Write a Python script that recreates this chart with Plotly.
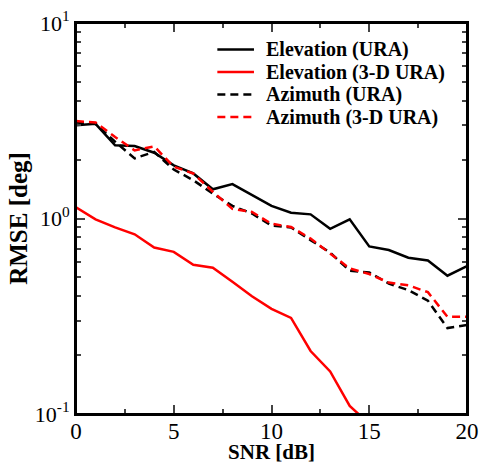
import plotly.graph_objects as go

snr = list(range(21))
elev_ura = [3.0, 3.05, 2.37, 2.35, 2.17, 1.87, 1.70, 1.41, 1.50, 1.32, 1.16,
            1.07, 1.05, 0.885, 0.99, 0.72, 0.69, 0.63, 0.61, 0.51, 0.57]
elev_3d = [1.14, 0.99, 0.90, 0.83, 0.71, 0.675, 0.58, 0.56, 0.475, 0.40, 0.345,
           0.31, 0.21, 0.165, 0.11, 0.089]
az_ura = [3.1, 3.05, 2.47, 2.03, 2.19, 1.78, 1.57, 1.34, 1.16, 1.06, 0.92,
          0.90, 0.775, 0.67, 0.54, 0.53, 0.465, 0.43, 0.38, 0.275, 0.285]
az_3d = [3.15, 3.1, 2.61, 2.23, 2.34, 1.84, 1.70, 1.37, 1.12, 1.08, 0.94,
         0.905, 0.79, 0.66, 0.555, 0.52, 0.47, 0.455, 0.42, 0.314, 0.314]

names = ["Elevation (URA)", "Elevation (3-D URA)", "Azimuth (URA)", "Azimuth (3-D URA)"]
x_ticks = [0, 5, 10, 15, 20]
y_tickvals = [0.1, 1, 10]
y_ticktext = ["10<sup>-1</sup>", "10<sup>0</sup>", "10<sup>1</sup>"]

FONT = "Liberation Serif"
DASH = "8px,5px"

fig = go.Figure()
series = [
    (elev_ura, "black", "solid"),
    (elev_3d, "#ff0000", "solid"),
    (az_ura, "black", DASH),
    (az_3d, "#ff0000", DASH),
]
for (vals, col, dash), name in zip(series, names):
    fig.add_trace(go.Scatter(
        x=snr[:len(vals)], y=vals, mode="lines", name=name,
        line=dict(color=col, width=2.5, dash=dash), showlegend=False,
    ))

# hand-built legend (tight row spacing like the original)
leg_x0, leg_x1, leg_tx = 0.3615, 0.4552, 0.4808
leg_y0, leg_dy = 0.932, 0.0575
for i, ((vals, col, dash), name) in enumerate(zip(series, names)):
    yy = leg_y0 - i * leg_dy
    fig.add_shape(type="line", xref="paper", yref="paper",
                  x0=leg_x0, x1=leg_x1, y0=yy, y1=yy,
                  line=dict(color=col, width=2.5, dash=dash))
    fig.add_annotation(xref="paper", yref="paper", x=leg_tx, y=yy,
                       xanchor="left", yanchor="middle", showarrow=False,
                       text="<b>" + name + "</b>",
                       font=dict(size=20, family=FONT, color="black"))

# plot frame
fig.add_shape(type="rect", xref="paper", yref="paper", x0=0, x1=1, y0=0, y1=1,
              line=dict(color="black", width=2), layer="above")

minor_y = [k * 0.1 for k in range(2, 10)] + [float(k) for k in range(2, 10)]

fig.update_layout(
    width=480, height=464,
    margin=dict(l=76, r=13, t=23, b=50),
    paper_bgcolor="white", plot_bgcolor="white",
    font=dict(family=FONT, color="black", size=20),
    showlegend=False,
    xaxis=dict(
        range=[0, 20], tickvals=x_ticks, ticks="inside", ticklen=9, tickwidth=1.5,
        showline=True, linewidth=2, linecolor="black", mirror="ticks",
        showgrid=False, zeroline=False, automargin=False,
        tickfont=dict(size=23, family=FONT), ticklabelstandoff=-5,
        minor=dict(ticks="inside", ticklen=5, tickwidth=1.5, dtick=2.5, showgrid=False),
        title=dict(text="<b>SNR [dB]</b>", font=dict(size=21, family=FONT), standoff=0),
    ),
    yaxis=dict(
        type="log", range=[-1, 1], tickvals=y_tickvals, ticktext=y_ticktext,
        ticks="inside", ticklen=9, tickwidth=1.5,
        showline=True, linewidth=2, linecolor="black", mirror="ticks",
        showgrid=False, zeroline=False, automargin=False,
        tickfont=dict(size=22, family=FONT),
        minor=dict(ticks="inside", ticklen=5, tickwidth=1.5, tickvals=minor_y, showgrid=False),
        title=dict(text="<b>RMSE [deg]</b>", font=dict(size=25, family=FONT), standoff=0),
    ),
)

fig.write_html("out.html", post_script="document.body.style.margin='0';",
               config={"displayModeBar": False})
